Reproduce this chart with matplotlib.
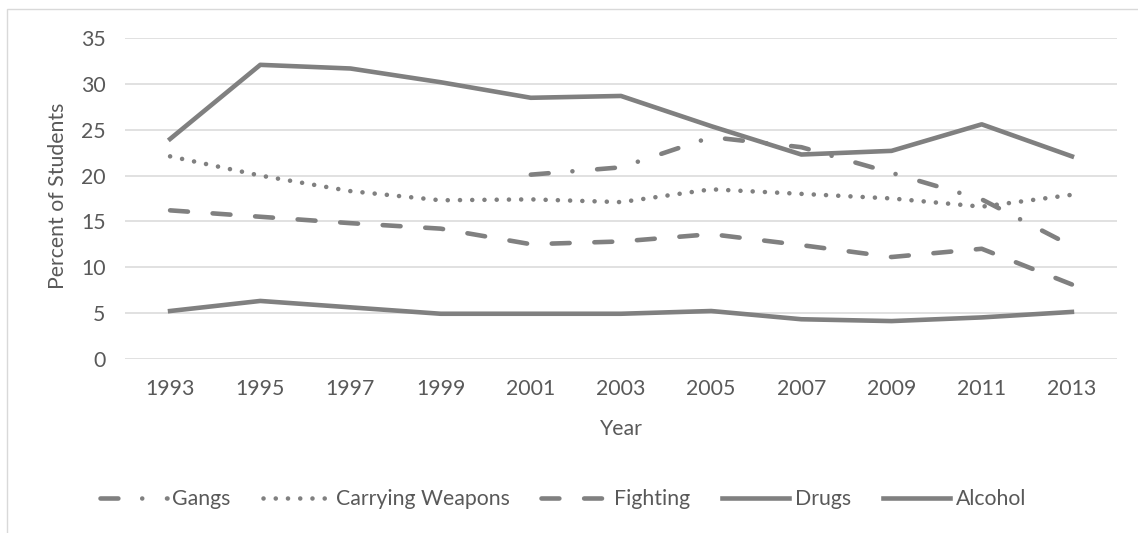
import numpy as np
import matplotlib.pyplot as plt
from matplotlib.patches import Rectangle

years = ['1993', '1995', '1997', '1999', '2001', '2003', '2005', '2007', '2009', '2011', '2013']
gangs = [np.nan, np.nan, np.nan, np.nan, 20.1, 20.9, 24.2, 23.1, 20.3, 17.4, 12.3]
carrying_weapons = [22.1, 20.0, 18.3, 17.3, 17.4, 17.1, 18.5, 18.0, 17.5, 16.6, 17.9]
fighting = [16.2, 15.5, 14.8, 14.2, 12.5, 12.8, 13.6, 12.4, 11.1, 12.0, 8.1]
drugs = [24.0, 32.1, 31.7, 30.2, 28.5, 28.7, 25.4, 22.3, 22.7, 25.6, 22.1]
alcohol = [5.2, 6.3, 5.6, 4.9, 4.9, 4.9, 5.2, 4.3, 4.1, 4.5, 5.1]

W, H = 1138, 533
plt.rcParams['font.family'] = ['Lato', 'DejaVu Sans']
FS = 15.3
TXT = '#595959'
LINE = '#808080'
LW = 3.3

fig = plt.figure(figsize=(W / 100, H / 100), dpi=100)
ax = fig.add_axes([125 / W, 1 - 358.6 / H, (1117 - 125) / W, (358.6 - 38.3) / H])

x = np.arange(len(years))
ax.plot(x, gangs, color=LINE, lw=LW, dashes=(3.9, 5.2, 0.01, 5.4),
        dash_capstyle='round', label='Gangs')
ax.plot(x, carrying_weapons, color=LINE, lw=LW, dashes=(0.01, 2.66),
        dash_capstyle='round', label='Carrying Weapons')
ax.plot(x, fighting, color=LINE, lw=LW, dashes=(3.9, 5.4),
        dash_capstyle='round', label='Fighting')
ax.plot(x, drugs, color=LINE, lw=LW, solid_joinstyle='round', label='Drugs')
ax.plot(x, alcohol, color=LINE, lw=LW, solid_joinstyle='round', label='Alcohol')

ax.set_xlim(-0.5, len(years) - 0.5)
ax.set_ylim(0, 35)
ax.set_yticks(range(0, 36, 5))
ax.set_xticks(x)
ax.set_xticklabels(years)
ax.yaxis.grid(True, color='#d9d9d9', lw=1.1)
ax.set_axisbelow(True)
for s in ax.spines.values():
    s.set_visible(False)
ax.tick_params(length=0, labelsize=FS, labelcolor=TXT)
ax.tick_params(axis='y', pad=14)
ax.tick_params(axis='x', pad=15)

fig.text(58 / W, 1 - 196 / H, 'Percent of Students', rotation=90, ha='center',
         va='center', fontsize=FS, color=TXT)
fig.text(621 / W, 1 - 429 / H, 'Year', ha='center', va='center', fontsize=FS, color=TXT)

fig.legend(loc='center', bbox_to_anchor=(563 / W, 1 - 499 / H), ncol=5, frameon=False,
           fontsize=FS, labelcolor=TXT, handlelength=3.15, handletextpad=0.28,
           columnspacing=1.5)

# chart border (cropped at right and bottom)
fig.patches.append(Rectangle((7 / W, -0.1), 1.2, 1 - 9 / H + 0.1, transform=fig.transFigure,
                             fill=False, edgecolor='#d9d9d9', lw=1.0))

fig.savefig('out.png', dpi=100)
